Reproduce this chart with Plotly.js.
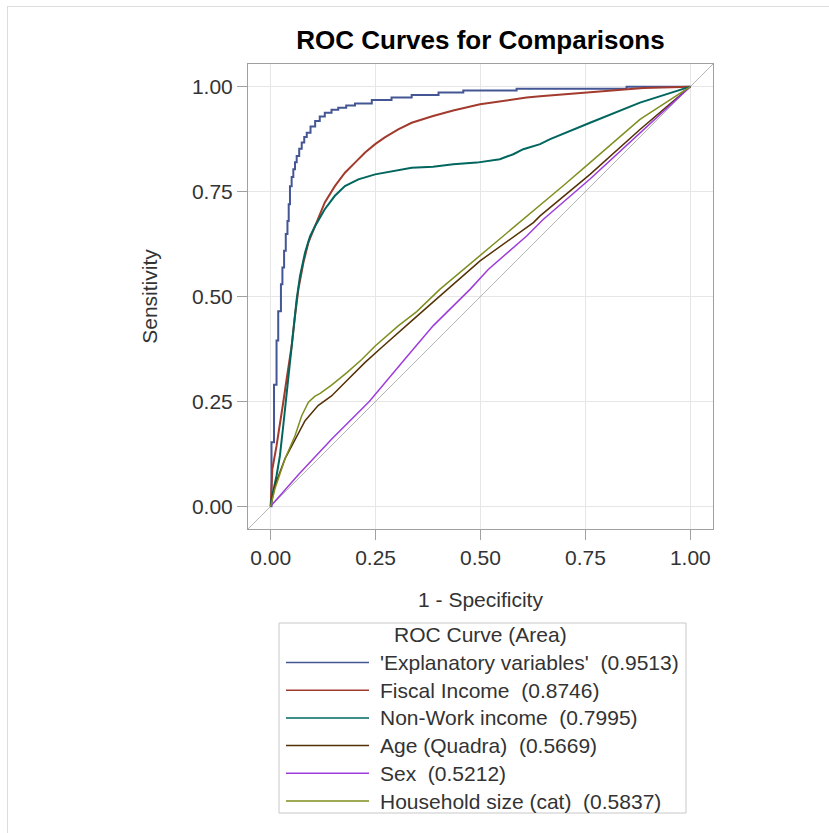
<!DOCTYPE html>
<html>
<head>
<meta charset="utf-8">
<script src="https://cdn.plot.ly/plotly-3.0.1.min.js"></script>
<style>
  html, body { margin: 0; padding: 0; background: #ffffff; }
  #chart { width: 829px; height: 833px; }
</style>
</head>
<body>
<div id="chart"></div>
<script>
// ROC curves: 1 - specificity (false positive rate) vs sensitivity
const curveNames = ["'Explanatory variables'", "Fiscal Income", "Non-Work income", "Age (Quadra)", "Sex", "Household size (cat)"];
const curveAreas = [0.9513, 0.8746, 0.7995, 0.5669, 0.5212, 0.5837];
const curveColors = ["#445694", "#A23A2E", "#01665E", "#543005", "#9D3CDB", "#7F8E1F"];

const fprExplanatory = [0, 0.002, 0.008, 0.014, 0.018, 0.0245, 0.028, 0.032, 0.036, 0.040, 0.043, 0.046, 0.050, 0.054, 0.058, 0.062, 0.068, 0.074, 0.080, 0.086, 0.095, 0.106, 0.117, 0.129, 0.145, 0.161, 0.180, 0.201, 0.241, 0.288, 0.336, 0.400, 0.459, 0.586, 0.848, 1];
const tprExplanatory = [0, 0.153, 0.290, 0.395, 0.465, 0.529, 0.569, 0.609, 0.649, 0.680, 0.720, 0.763, 0.785, 0.803, 0.820, 0.835, 0.852, 0.867, 0.880, 0.890, 0.905, 0.918, 0.929, 0.938, 0.945, 0.950, 0.955, 0.960, 0.968, 0.974, 0.980, 0.986, 0.991, 0.995, 1.0, 1];

const fprFiscal = [0, 0.004, 0.014, 0.022, 0.030, 0.038, 0.046, 0.050, 0.058, 0.066, 0.078, 0.090, 0.106, 0.129, 0.153, 0.177, 0.201, 0.225, 0.249, 0.272, 0.304, 0.336, 0.387, 0.435, 0.499, 0.550, 0.610, 0.642, 0.690, 0.769, 0.832, 0.888, 1];
const tprFiscal = [0, 0.089, 0.144, 0.192, 0.248, 0.303, 0.351, 0.382, 0.454, 0.517, 0.581, 0.629, 0.668, 0.724, 0.763, 0.795, 0.819, 0.843, 0.863, 0.879, 0.898, 0.914, 0.930, 0.943, 0.958, 0.966, 0.974, 0.977, 0.981, 0.986, 0.992, 0.997, 1];

const fprNonWork = [0, 0.002, 0.014, 0.022, 0.030, 0.038, 0.046, 0.054, 0.062, 0.070, 0.082, 0.094, 0.106, 0.129, 0.153, 0.177, 0.209, 0.249, 0.296, 0.336, 0.387, 0.435, 0.491, 0.546, 0.578, 0.602, 0.642, 0.666, 0.761, 0.880, 1];
const tprNonWork = [0, 0.017, 0.073, 0.120, 0.192, 0.271, 0.343, 0.414, 0.494, 0.549, 0.605, 0.644, 0.668, 0.708, 0.740, 0.763, 0.779, 0.791, 0.799, 0.807, 0.809, 0.815, 0.819, 0.827, 0.839, 0.851, 0.863, 0.875, 0.914, 0.962, 1];

const fprAge = [0, 0.010, 0.034, 0.058, 0.082, 0.113, 0.145, 0.177, 0.209, 0.225, 0.265, 0.308, 0.336, 0.403, 0.499, 0.626, 0.642, 0.761, 0.880, 1];
const tprAge = [0, 0.049, 0.113, 0.160, 0.204, 0.240, 0.263, 0.295, 0.327, 0.343, 0.379, 0.418, 0.442, 0.501, 0.585, 0.676, 0.692, 0.791, 0.898, 1];

const fprSex = [0, 0.066, 0.145, 0.235, 0.320, 0.387, 0.475, 0.519, 0.610, 0.650, 0.761, 0.880, 1];
const tprSex = [0, 0.075, 0.160, 0.250, 0.351, 0.430, 0.517, 0.565, 0.644, 0.684, 0.780, 0.890, 1];

const fprHousehold = [0, 0.010, 0.034, 0.058, 0.074, 0.090, 0.105, 0.118, 0.145, 0.181, 0.217, 0.249, 0.304, 0.348, 0.403, 0.499, 0.602, 0.642, 0.697, 0.761, 0.880, 1];
const tprHousehold = [0, 0.041, 0.113, 0.168, 0.216, 0.248, 0.262, 0.269, 0.289, 0.318, 0.350, 0.382, 0.430, 0.464, 0.517, 0.597, 0.684, 0.716, 0.764, 0.819, 0.922, 1];

const tickValues = [0, 0.25, 0.5, 0.75, 1];
const tickLabels = ["0.00", "0.25", "0.50", "0.75", "1.00"];
const axisRange = [-0.054, 1.054];

const FONT = "'Liberation Sans', Arial, Helvetica, sans-serif";
const curveX = [fprExplanatory, fprFiscal, fprNonWork, fprAge, fprSex, fprHousehold];
const curveY = [tprExplanatory, tprFiscal, tprNonWork, tprAge, tprSex, tprHousehold];
const curveWidths = [2, 2, 2, 1.5, 1.5, 1.5];
const curveShapes = ["hv", "linear", "linear", "linear", "linear", "linear"];

// Chance diagonal across the whole plotting area
const traces = [{
  x: axisRange, y: axisRange, mode: "lines", type: "scatter",
  line: { color: "#b4b4b4", width: 1 }, hoverinfo: "skip", showlegend: false
}];

curveNames.forEach((name, i) => {
  traces.push({
    x: curveX[i], y: curveY[i], type: "scatter", mode: "lines", name: name,
    line: { color: curveColors[i], width: curveWidths[i], shape: curveShapes[i] },
    showlegend: false
  });
});

// Plot-area geometry in pixels (used for the legend box below the axes)
const W = 829, H = 833;
const M = { l: 248, r: 116, t: 64, b: 304 };
const plotW = W - M.l - M.r, plotH = H - M.t - M.b;
const px = v => (v - M.l) / plotW;
const py = v => (H - M.b - v) / plotH;

const shapes = [
  // faint page border
  { type: "line", xref: "paper", yref: "paper", x0: px(7), x1: px(840), y0: py(6.5), y1: py(6.5), line: { color: "#dddddd", width: 1 } },
  { type: "line", xref: "paper", yref: "paper", x0: px(7.5), x1: px(7.5), y0: py(6), y1: py(845), line: { color: "#dddddd", width: 1 } },
  // legend frame
  { type: "rect", xref: "paper", yref: "paper", x0: px(279), x1: px(686), y0: py(813), y1: py(623), line: { color: "#c8c8c8", width: 1 }, fillcolor: "rgba(0,0,0,0)" }
];
const annotations = [
  { xref: "paper", yref: "paper", x: px(480), y: py(634.5), text: "ROC Curve (Area)", showarrow: false, xanchor: "center", yanchor: "middle", font: { family: FONT, size: 21, color: "#333333" } }
];
curveNames.forEach((name, i) => {
  const rowY = 662.5 + 27.7 * i;
  shapes.push({ type: "line", xref: "paper", yref: "paper", x0: px(286), x1: px(369), y0: py(rowY), y1: py(rowY), line: { color: curveColors[i], width: 1.5 } });
  annotations.push({
    xref: "paper", yref: "paper", x: px(378), y: py(rowY), xanchor: "left", yanchor: "middle", showarrow: false,
    text: name + "\u00a0\u00a0(" + curveAreas[i].toFixed(4) + ")",
    font: { family: FONT, size: 21, color: "#333333" }
  });
});

const axisCommon = {
  range: axisRange, tickvals: tickValues, ticktext: tickLabels,
  ticks: "outside", ticklen: 10, tickwidth: 1, tickcolor: "#a0a0a0",
  showline: true, mirror: true, linecolor: "#a0a0a0", linewidth: 1,
  showgrid: true, gridcolor: "#e6e6e6", gridwidth: 1.5, zeroline: false,
  tickfont: { family: FONT, size: 21, color: "#333333" }, fixedrange: true
};

const layout = {
  width: W, height: H, margin: M,
  paper_bgcolor: "#ffffff", plot_bgcolor: "#ffffff",
  title: { text: "ROC Curves for Comparisons", font: { family: FONT, size: 26, color: "#000000", weight: "bold" },
           x: (M.l + plotW / 2) / W, xanchor: "center", xref: "container", y: 1 - 40 / H, yanchor: "middle", yref: "container" },
  xaxis: Object.assign({}, axisCommon, { title: { text: "1 - Specificity", font: { family: FONT, size: 21, color: "#333333" }, standoff: 24 } }),
  yaxis: Object.assign({}, axisCommon, { title: { text: "Sensitivity", font: { family: FONT, size: 21, color: "#333333" }, standoff: 28 } }),
  showlegend: false, shapes: shapes, annotations: annotations
};

Plotly.newPlot("chart", traces, layout, { displayModeBar: false, staticPlot: true });
</script>
</body>
</html>
